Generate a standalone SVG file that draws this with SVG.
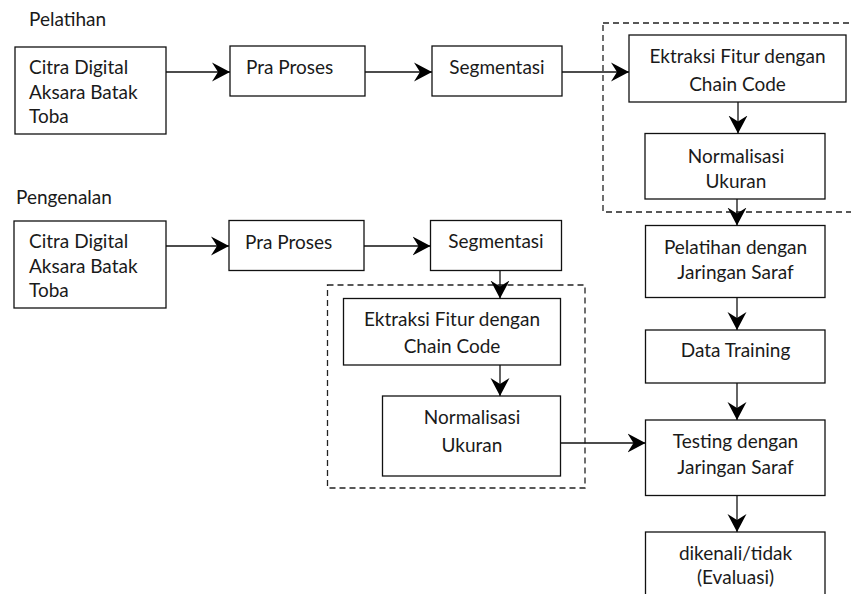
<svg xmlns="http://www.w3.org/2000/svg" width="851" height="594" viewBox="0 0 851 594">
<style>
  .box{fill:#fff;stroke:#111;stroke-width:1.3}
  .dash{fill:none;stroke:#222;stroke-width:1.3;stroke-dasharray:6 4}
  .t{font-family:Lato,"Liberation Sans",sans-serif;font-size:19px;fill:#1a1a1a}
  .c{text-anchor:middle}
  .conn line{stroke:#111;stroke-width:1.3;marker-end:url(#ah)}
</style>
<defs>
  <marker id="ah" markerUnits="userSpaceOnUse" markerWidth="19" markerHeight="20" viewBox="0 0 19 20" refX="18" refY="10" orient="auto">
    <path d="M0,0.5 L18,10 L0,19.5 L6,10 z" fill="#000"/>
  </marker>
</defs>
<rect width="851" height="594" fill="#fff"/>

<g id="dashed-groups">
  <rect class="dash" x="603" y="23" width="260" height="189"/>
  <rect class="dash" x="327.5" y="285" width="257.5" height="203"/>
</g>

<g id="labels">
  <text class="t" x="29" y="26">Pelatihan</text>
  <text class="t" x="16" y="204">Pengenalan</text>
</g>

<g id="n-citra1">
  <rect class="box" x="15" y="47" width="151" height="87"/>
  <text class="t" x="29" y="74">Citra Digital</text>
  <text class="t" x="29" y="99">Aksara Batak</text>
  <text class="t" x="29" y="123">Toba</text>
</g>
<g id="n-praproses1">
  <rect class="box" x="230" y="46" width="135" height="50"/>
  <text class="t" x="246" y="74">Pra Proses</text>
</g>
<g id="n-segmentasi1">
  <rect class="box" x="432" y="46" width="130" height="50"/>
  <text class="t c" x="497" y="74">Segmentasi</text>
</g>
<g id="n-ektraksi1">
  <rect class="box" x="629" y="35" width="217" height="67"/>
  <text class="t c" x="737.5" y="63">Ektraksi Fitur dengan</text>
  <text class="t c" x="737.5" y="90.5">Chain Code</text>
</g>
<g id="n-normalisasi1">
  <rect class="box" x="645" y="133.5" width="180" height="65.5"/>
  <text class="t c" x="736" y="163">Normalisasi</text>
  <text class="t c" x="736" y="188">Ukuran</text>
</g>
<g id="n-pelatihan">
  <rect class="box" x="645.5" y="225.5" width="179.5" height="72"/>
  <text class="t c" x="735.5" y="254">Pelatihan dengan</text>
  <text class="t c" x="735.5" y="279">Jaringan Saraf</text>
</g>
<g id="n-datatraining">
  <rect class="box" x="645.5" y="330" width="179.5" height="53"/>
  <text class="t c" x="735.5" y="356.5">Data Training</text>
</g>
<g id="n-testing">
  <rect class="box" x="645.5" y="420" width="179.5" height="75.5"/>
  <text class="t c" x="735.5" y="448">Testing dengan</text>
  <text class="t c" x="735.5" y="474">Jaringan Saraf</text>
</g>
<g id="n-evaluasi">
  <rect class="box" x="645.5" y="532" width="179.5" height="80"/>
  <text class="t c" x="735.5" y="560">dikenali/tidak</text>
  <text class="t c" x="735.5" y="584">(Evaluasi)</text>
</g>

<g id="n-citra2">
  <rect class="box" x="14" y="221" width="152" height="87"/>
  <text class="t" x="29" y="248">Citra Digital</text>
  <text class="t" x="29" y="272.5">Aksara Batak</text>
  <text class="t" x="29" y="296.5">Toba</text>
</g>
<g id="n-praproses2">
  <rect class="box" x="229" y="220.5" width="135" height="50"/>
  <text class="t" x="245" y="249">Pra Proses</text>
</g>
<g id="n-segmentasi2">
  <rect class="box" x="430.5" y="220.5" width="131" height="50"/>
  <text class="t c" x="496" y="248">Segmentasi</text>
</g>
<g id="n-ektraksi2">
  <rect class="box" x="343.5" y="298.5" width="217" height="66.5"/>
  <text class="t c" x="452" y="326">Ektraksi Fitur dengan</text>
  <text class="t c" x="452" y="353">Chain Code</text>
</g>
<g id="n-normalisasi2">
  <rect class="box" x="382.5" y="396" width="178" height="80"/>
  <text class="t c" x="472" y="424">Normalisasi</text>
  <text class="t c" x="472" y="452">Ukuran</text>
</g>

<g id="connectors" class="conn">
  <line x1="166" y1="72" x2="230" y2="72"/>
  <line x1="365" y1="72" x2="432" y2="72"/>
  <line x1="562" y1="72" x2="629" y2="72"/>
  <line x1="738" y1="102" x2="738" y2="133.5"/>
  <line x1="737" y1="199" x2="737" y2="225.5"/>
  <line x1="737" y1="297.5" x2="737" y2="330"/>
  <line x1="737" y1="383" x2="737" y2="420"/>
  <line x1="737" y1="495.5" x2="737" y2="532"/>
  <line x1="166" y1="246" x2="229" y2="246"/>
  <line x1="364" y1="246" x2="430.5" y2="246"/>
  <line x1="500" y1="270.5" x2="500" y2="298.5"/>
  <line x1="500" y1="365" x2="500" y2="396"/>
  <line x1="560.5" y1="443" x2="645.5" y2="443"/>
</g>
</svg>
